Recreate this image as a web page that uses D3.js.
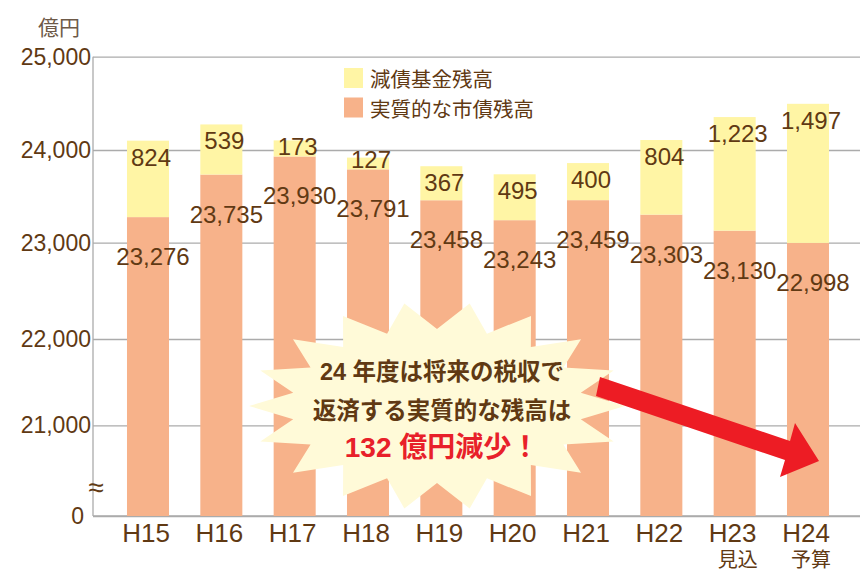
<!DOCTYPE html>
<html><head><meta charset="utf-8">
<script src="https://cdn.jsdelivr.net/npm/d3@7"></script>
<style>
html,body{margin:0;padding:0;background:#fff;}
svg{display:block;font-family:"Liberation Sans","Noto Sans CJK JP",sans-serif;}
</style></head>
<body><svg id="c" width="860" height="569"></svg>
<script>
const categories = ["H15","H16","H17","H18","H19","H20","H21","H22","H23","H24"];
const subLabels  = ["","","","","","","","","見込","予算"];
const realDebt   = [23276,23735,23930,23791,23458,23243,23459,23303,23130,22998];
const sinkingFund= [824,539,173,127,367,495,400,804,1223,1497];
const yTicks     = [0,21000,22000,23000,24000,25000];
const seriesNames= ["減債基金残高","実質的な市債残高"];
const calloutLines = ["24 年度は将来の税収で","返済する実質的な残高は","132 億円減少！"];

const brown = "#603913", yellowC = "#fff5a5", orangeC = "#f7b28a";
const svg = d3.select("#c");
const left = 93, right = 860, bottom = 516;

const x = d3.scaleBand().domain(categories).range([94.5, 861.5]).paddingInner(0.427).paddingOuter(0.443);
const y = d3.scaleLinear().domain([0,21000,22000,23000,24000,25000]).range([516,425.3,339,242.7,150,56.7]);

// grid / axis
const ax = svg.append("g").attr("transform",`translate(${left},0)`)
  .call(d3.axisLeft(y).tickValues(yTicks).tickFormat(d3.format(",")).tickSize(-(right-left)).tickPadding(2));
ax.select(".domain").remove();
ax.selectAll(".tick line").attr("stroke","#ababab").attr("stroke-width",1.3);
ax.selectAll(".tick text").attr("fill",brown).attr("font-size",23).attr("font-family","Liberation Sans");
ax.selectAll(".tick").filter(d=>d===0).select("text").attr("x",-9);

svg.append("line").attr("x1",left).attr("x2",left).attr("y1",y(25000)).attr("y2",bottom)
  .attr("stroke","#ababab").attr("stroke-width",1.3);
svg.append("line").attr("x1",left).attr("x2",right).attr("y1",bottom).attr("y2",bottom)
  .attr("stroke","#ababab").attr("stroke-width",1.3);

// unit
svg.append("text").attr("x",59).attr("y",26).attr("text-anchor","middle").attr("dominant-baseline","central")
  .attr("font-size",21).attr("fill","#6e5a48").attr("font-family","Noto Sans CJK JP").text("億円");
// break mark
svg.append("text").attr("x",96).attr("y",487).attr("text-anchor","middle").attr("dominant-baseline","central")
  .attr("font-size",28).attr("fill",brown).text("≈");

// bars
const data = categories.map((c,i)=>({c, real:realDebt[i], fund:sinkingFund[i], sub:subLabels[i]}));
const g = svg.append("g");
g.selectAll("rect.real").data(data).join("rect").attr("class","real")
  .attr("x",d=>x(d.c)).attr("width",x.bandwidth())
  .attr("y",d=>y(d.real)).attr("height",d=>y(0)-y(d.real)).attr("fill",orangeC);
g.selectAll("rect.fund").data(data).join("rect").attr("class","fund")
  .attr("x",d=>x(d.c)).attr("width",x.bandwidth())
  .attr("y",d=>y(d.real+d.fund)).attr("height",d=>y(d.real)-y(d.real+d.fund)).attr("fill",yellowC);

g.selectAll("text.fl").data(data).join("text").attr("class","fl")
  .attr("x",d=>x(d.c)+x.bandwidth()/2+3)
  .attr("y",d=>Math.min(y(d.real+d.fund)+25, y(d.real)-1))
  .attr("text-anchor","middle").attr("font-size",24).attr("fill",brown)
  .text(d=>d3.format(",")(d.fund));
g.selectAll("text.rl").data(data).join("text").attr("class","rl")
  .attr("x",d=>x(d.c)+x.bandwidth()/2+5)
  .attr("y",d=>y(d.real)+48)
  .attr("text-anchor","middle").attr("font-size",24).attr("fill",brown)
  .text(d=>d3.format(",")(d.real));

// category labels
g.selectAll("text.cat").data(data).join("text").attr("class","cat")
  .attr("x",d=>x(d.c)+x.bandwidth()/2-2).attr("y",542)
  .attr("text-anchor","middle").attr("font-size",26).attr("fill",brown).text(d=>d.c);
g.selectAll("text.sub").data(data.filter(d=>d.sub)).join("text").attr("class","sub")
  .attr("x",d=>x(d.c)+x.bandwidth()/2+3).attr("y",558)
  .attr("text-anchor","middle").attr("dominant-baseline","central")
  .attr("font-size",20).attr("fill",brown).attr("font-family","Noto Sans CJK JP").text(d=>d.sub);

// legend
const lg = svg.append("g");
[yellowC, orangeC].forEach((col,i)=>{
  lg.append("rect").attr("x",344).attr("y",68+i*29.5).attr("width",19).attr("height",20).attr("fill",col);
  lg.append("text").attr("x",370).attr("y",78+i*29.5).attr("dominant-baseline","central")
    .attr("font-size",20.5).attr("fill",brown).attr("font-family","Noto Sans CJK JP").text(seriesNames[i]);
});

// starburst
const cx = 437, cy = 406, N = 18;
const pts = d3.range(2*N).map(k=>{
  const a = Math.PI - k*Math.PI/N;
  const outer = k%2===0;
  const rx = outer?188:146, ry = outer?104:77;
  return [cx+rx*Math.cos(a), cy-ry*Math.sin(a)];
});
svg.append("path").attr("d", d3.line()(pts)+"Z").attr("fill","#fffad8");

// arrow
const arrow = [[600,377],[790,441],[795,423],[819,461],[780,477],[785,460],[596,396]];
svg.append("path").attr("d", d3.line()(arrow)+"Z").attr("fill","#ed1c24");

// callout text
const ct = svg.append("g").attr("font-family","Liberation Sans, Noto Sans CJK JP").attr("font-weight","bold")
  .attr("text-anchor","middle");
[[372,23.5,brown],[411,23.5,brown],[447,28,"#e8202a"]].forEach((s,i)=>{
  ct.append("text").attr("x",442).attr("y",s[0]).attr("dominant-baseline","central")
    .attr("font-size",s[1]).attr("fill",s[2]).text(calloutLines[i]);
});
</script></body></html>
